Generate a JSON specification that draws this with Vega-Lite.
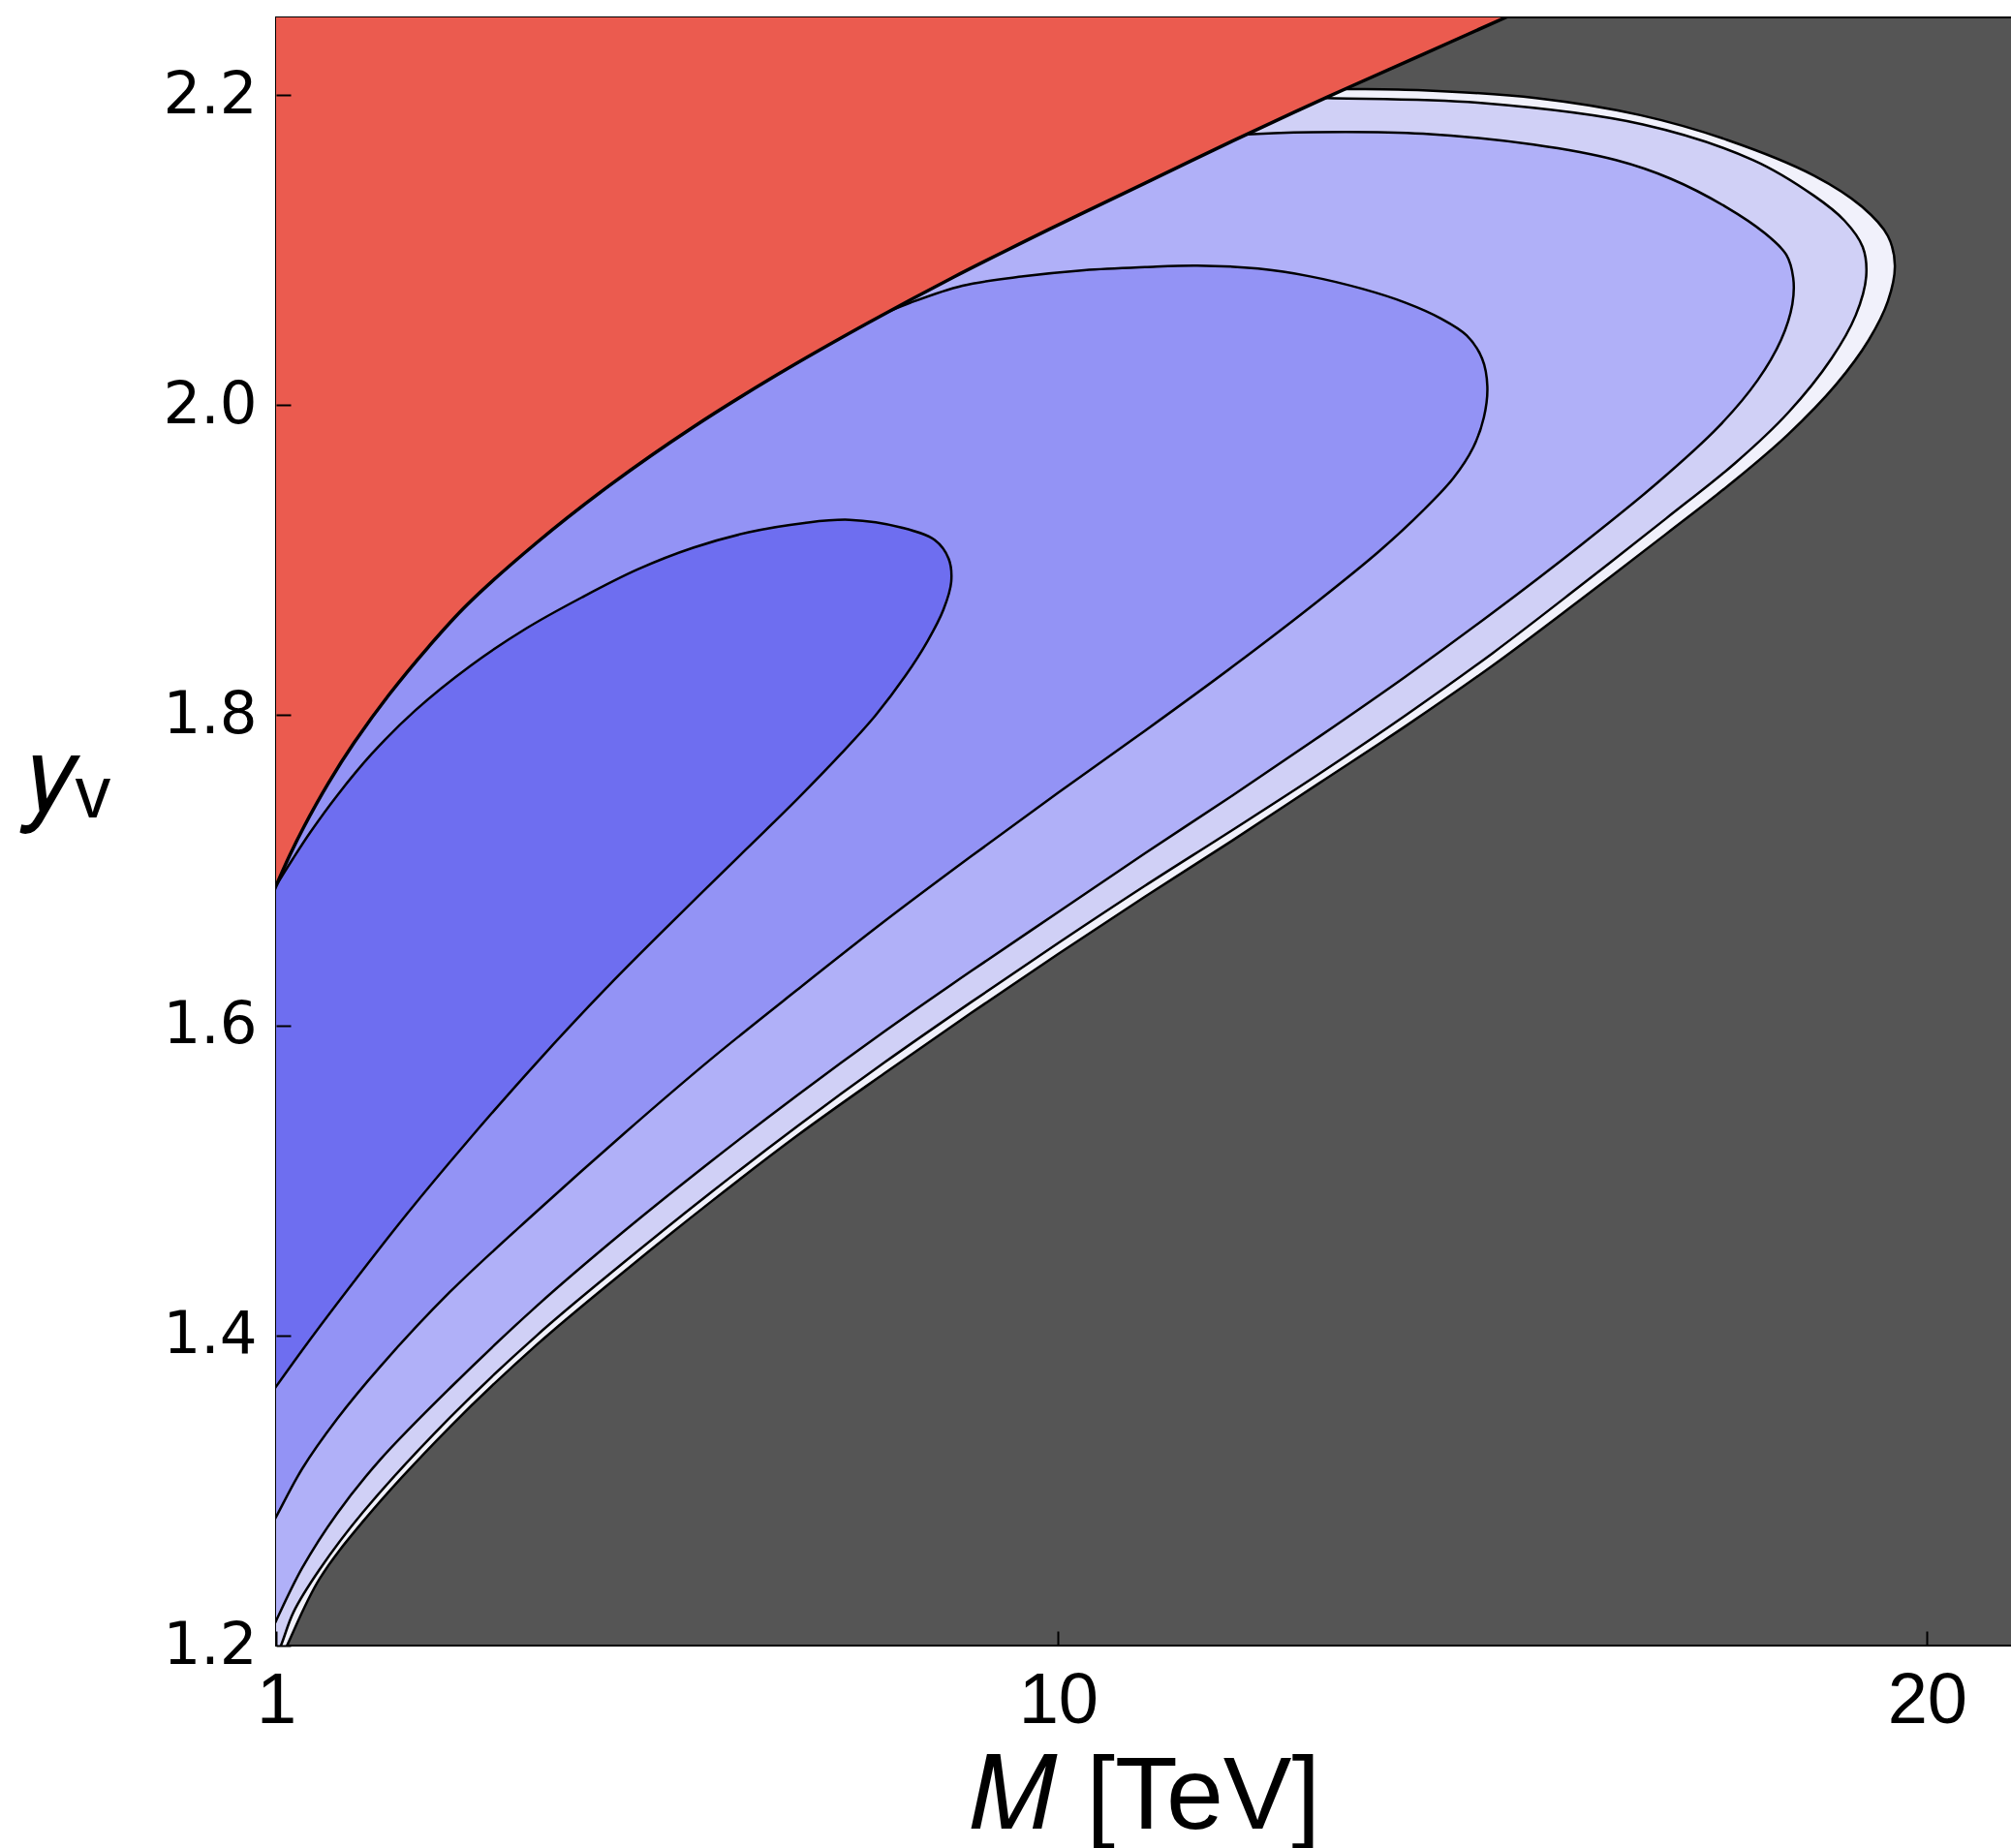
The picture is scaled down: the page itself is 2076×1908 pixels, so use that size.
{
  "$schema": "https://vega.github.io/schema/vega-lite/v6.json",
  "autosize": {"type": "none"},
  "padding": {"left": 285, "top": 18, "right": 0, "bottom": 209},
  "width": 1794,
  "height": 1681,
  "background": "white",
  "config": {
    "view": {"fill": "#555555", "stroke": "black", "strokeWidth": 2}
  },
  "data": {"values": [
    {"s":"outer","i":1,"M":0.9,"y":1.17},{"s":"outer","i":2,"M":1.15,"y":1.203},{"s":"outer","i":3,"M":1.5,"y":1.243},{"s":"outer","i":4,"M":2,"y":1.28},{"s":"outer","i":5,"M":3,"y":1.341},{"s":"outer","i":6,"M":4,"y":1.394},{"s":"outer","i":7,"M":5,"y":1.441},{"s":"outer","i":8,"M":6,"y":1.486},{"s":"outer","i":9,"M":7,"y":1.529},{"s":"outer","i":10,"M":8,"y":1.569},{"s":"outer","i":11,"M":9,"y":1.608},{"s":"outer","i":12,"M":10,"y":1.646},{"s":"outer","i":13,"M":11,"y":1.683},{"s":"outer","i":14,"M":12,"y":1.719},{"s":"outer","i":15,"M":13,"y":1.756},{"s":"outer","i":16,"M":14,"y":1.793},{"s":"outer","i":17,"M":15,"y":1.832},{"s":"outer","i":18,"M":16,"y":1.874},{"s":"outer","i":19,"M":17,"y":1.917},{"s":"outer","i":20,"M":17.8,"y":1.952},{"s":"outer","i":21,"M":18.4,"y":1.981},{"s":"outer","i":22,"M":18.95,"y":2.013},{"s":"outer","i":23,"M":19.33,"y":2.042},{"s":"outer","i":24,"M":19.55,"y":2.067},{"s":"outer","i":25,"M":19.63,"y":2.09},{"s":"outer","i":26,"M":19.55,"y":2.109},{"s":"outer","i":27,"M":19.25,"y":2.128},{"s":"outer","i":28,"M":18.7,"y":2.148},{"s":"outer","i":29,"M":17.7,"y":2.171},{"s":"outer","i":30,"M":16.7,"y":2.187},{"s":"outer","i":31,"M":15.5,"y":2.198},{"s":"outer","i":32,"M":14.2,"y":2.203},{"s":"outer","i":33,"M":13.19,"y":2.204},{"s":"outer","i":34,"M":12.4,"y":2.205},{"s":"outer","i":35,"M":12.0,"y":2.35},{"s":"outer","i":36,"M":0.9,"y":2.35},

    {"s":"lightest","i":1,"M":0.9,"y":1.18},{"s":"lightest","i":2,"M":1.056,"y":1.2},{"s":"lightest","i":3,"M":1.2,"y":1.2215},{"s":"lightest","i":4,"M":1.5,"y":1.249},{"s":"lightest","i":5,"M":2,"y":1.286},{"s":"lightest","i":6,"M":3,"y":1.347},{"s":"lightest","i":7,"M":4,"y":1.4},{"s":"lightest","i":8,"M":5,"y":1.447},{"s":"lightest","i":9,"M":6,"y":1.492},{"s":"lightest","i":10,"M":7,"y":1.535},{"s":"lightest","i":11,"M":8,"y":1.576},{"s":"lightest","i":12,"M":9,"y":1.615},{"s":"lightest","i":13,"M":10,"y":1.653},{"s":"lightest","i":14,"M":11,"y":1.69},{"s":"lightest","i":15,"M":11.98,"y":1.725},{"s":"lightest","i":16,"M":13,"y":1.762},{"s":"lightest","i":17,"M":14,"y":1.8},{"s":"lightest","i":18,"M":15,"y":1.84},{"s":"lightest","i":19,"M":16,"y":1.883},{"s":"lightest","i":20,"M":17,"y":1.927},{"s":"lightest","i":21,"M":17.8,"y":1.963},{"s":"lightest","i":22,"M":18.4,"y":1.995},{"s":"lightest","i":23,"M":18.9,"y":2.03},{"s":"lightest","i":24,"M":19.18,"y":2.058},{"s":"lightest","i":25,"M":19.3,"y":2.083},{"s":"lightest","i":26,"M":19.26,"y":2.102},{"s":"lightest","i":27,"M":19.05,"y":2.119},{"s":"lightest","i":28,"M":18.7,"y":2.135},{"s":"lightest","i":29,"M":18.0,"y":2.158},{"s":"lightest","i":30,"M":16.73,"y":2.181},{"s":"lightest","i":31,"M":14.83,"y":2.195},{"s":"lightest","i":32,"M":13.1,"y":2.198},{"s":"lightest","i":33,"M":12.4,"y":2.199},{"s":"lightest","i":34,"M":12.0,"y":2.35},{"s":"lightest","i":35,"M":0.9,"y":2.35},

    {"s":"light","i":1,"M":0.9,"y":1.204},{"s":"light","i":2,"M":1,"y":1.216},{"s":"light","i":3,"M":1.3,"y":1.25},{"s":"light","i":4,"M":1.7,"y":1.285},{"s":"light","i":5,"M":2.2,"y":1.32},{"s":"light","i":6,"M":3,"y":1.366},{"s":"light","i":7,"M":4,"y":1.419},{"s":"light","i":8,"M":5,"y":1.467},{"s":"light","i":9,"M":6,"y":1.512},{"s":"light","i":10,"M":7,"y":1.555},{"s":"light","i":11,"M":8,"y":1.596},{"s":"light","i":12,"M":9,"y":1.635},{"s":"light","i":13,"M":10,"y":1.673},{"s":"light","i":14,"M":11,"y":1.711},{"s":"light","i":15,"M":12,"y":1.748},{"s":"light","i":16,"M":13,"y":1.786},{"s":"light","i":17,"M":14,"y":1.825},{"s":"light","i":18,"M":15,"y":1.866},{"s":"light","i":19,"M":16,"y":1.909},{"s":"light","i":20,"M":16.9,"y":1.95},{"s":"light","i":21,"M":17.6,"y":1.986},{"s":"light","i":22,"M":18.05,"y":2.016},{"s":"light","i":23,"M":18.32,"y":2.042},{"s":"light","i":24,"M":18.45,"y":2.065},{"s":"light","i":25,"M":18.46,"y":2.082},{"s":"light","i":26,"M":18.38,"y":2.097},{"s":"light","i":27,"M":18.13,"y":2.111},{"s":"light","i":28,"M":17.68,"y":2.128},{"s":"light","i":29,"M":17.05,"y":2.146},{"s":"light","i":30,"M":16.42,"y":2.158},{"s":"light","i":31,"M":15.47,"y":2.168},{"s":"light","i":32,"M":14.2,"y":2.175},{"s":"light","i":33,"M":12.93,"y":2.176},{"s":"light","i":34,"M":11.98,"y":2.174},{"s":"light","i":35,"M":11.3,"y":2.171},{"s":"light","i":36,"M":11.0,"y":2.35},{"s":"light","i":37,"M":0.9,"y":2.35},

    {"s":"medium","i":1,"M":0.9,"y":1.273},{"s":"medium","i":2,"M":1,"y":1.283},{"s":"medium","i":3,"M":1.3,"y":1.314},{"s":"medium","i":4,"M":1.7,"y":1.346},{"s":"medium","i":5,"M":2.2,"y":1.38},{"s":"medium","i":6,"M":3,"y":1.428},{"s":"medium","i":7,"M":4,"y":1.48},{"s":"medium","i":8,"M":5,"y":1.53},{"s":"medium","i":9,"M":6,"y":1.578},{"s":"medium","i":10,"M":7,"y":1.623},{"s":"medium","i":11,"M":8,"y":1.667},{"s":"medium","i":12,"M":9,"y":1.709},{"s":"medium","i":13,"M":10,"y":1.75},{"s":"medium","i":14,"M":11,"y":1.79},{"s":"medium","i":15,"M":12,"y":1.831},{"s":"medium","i":16,"M":13,"y":1.874},{"s":"medium","i":17,"M":13.7,"y":1.906},{"s":"medium","i":18,"M":14.2,"y":1.932},{"s":"medium","i":19,"M":14.55,"y":1.953},{"s":"medium","i":20,"M":14.78,"y":1.973},{"s":"medium","i":21,"M":14.9,"y":1.992},{"s":"medium","i":22,"M":14.94,"y":2.012},{"s":"medium","i":23,"M":14.88,"y":2.03},{"s":"medium","i":24,"M":14.7,"y":2.045},{"s":"medium","i":25,"M":14.4,"y":2.056},{"s":"medium","i":26,"M":14.0,"y":2.066},{"s":"medium","i":27,"M":13.5,"y":2.075},{"s":"medium","i":28,"M":12.9,"y":2.083},{"s":"medium","i":29,"M":12.3,"y":2.088},{"s":"medium","i":30,"M":11.6,"y":2.09},{"s":"medium","i":31,"M":11.0,"y":2.089},{"s":"medium","i":32,"M":10.3,"y":2.087},{"s":"medium","i":33,"M":9.6,"y":2.083},{"s":"medium","i":34,"M":8.9,"y":2.077},{"s":"medium","i":35,"M":8.3,"y":2.066},{"s":"medium","i":36,"M":7.78,"y":2.054},{"s":"medium","i":37,"M":7.3,"y":2.044},{"s":"medium","i":38,"M":6.8,"y":2.35},{"s":"medium","i":39,"M":0.9,"y":2.35},

    {"s":"inner","i":1,"M":0.9,"y":1.359},{"s":"inner","i":2,"M":1,"y":1.367},{"s":"inner","i":3,"M":1.4,"y":1.398},{"s":"inner","i":4,"M":1.9,"y":1.435},{"s":"inner","i":5,"M":2.5,"y":1.478},{"s":"inner","i":6,"M":3.2,"y":1.525},{"s":"inner","i":7,"M":4.0,"y":1.576},{"s":"inner","i":8,"M":4.8,"y":1.624},{"s":"inner","i":9,"M":5.6,"y":1.669},{"s":"inner","i":10,"M":6.4,"y":1.713},{"s":"inner","i":11,"M":7.0,"y":1.746},{"s":"inner","i":12,"M":7.5,"y":1.775},{"s":"inner","i":13,"M":7.9,"y":1.8},{"s":"inner","i":14,"M":8.25,"y":1.826},{"s":"inner","i":15,"M":8.5,"y":1.848},{"s":"inner","i":16,"M":8.68,"y":1.868},{"s":"inner","i":17,"M":8.77,"y":1.886},{"s":"inner","i":18,"M":8.74,"y":1.901},{"s":"inner","i":19,"M":8.58,"y":1.913},{"s":"inner","i":20,"M":8.2,"y":1.921},{"s":"inner","i":21,"M":7.6,"y":1.926},{"s":"inner","i":22,"M":7.08,"y":1.924},{"s":"inner","i":23,"M":6.44,"y":1.918},{"s":"inner","i":24,"M":5.8,"y":1.908},{"s":"inner","i":25,"M":5.16,"y":1.894},{"s":"inner","i":26,"M":4.52,"y":1.876},{"s":"inner","i":27,"M":3.88,"y":1.856},{"s":"inner","i":28,"M":3.24,"y":1.832},{"s":"inner","i":29,"M":2.6,"y":1.803},{"s":"inner","i":30,"M":2.1,"y":1.775},{"s":"inner","i":31,"M":1.7,"y":1.748},{"s":"inner","i":32,"M":1.4,"y":1.725},{"s":"inner","i":33,"M":1.2,"y":1.708},{"s":"inner","i":34,"M":1.0,"y":1.69},{"s":"inner","i":35,"M":0.9,"y":1.68},

    {"s":"red","i":1,"M":0.9,"y":1.677},{"s":"red","i":2,"M":1,"y":1.69},{"s":"red","i":3,"M":1.16,"y":1.71},{"s":"red","i":4,"M":1.32,"y":1.728},{"s":"red","i":5,"M":1.6,"y":1.756},{"s":"red","i":6,"M":1.9,"y":1.7824},{"s":"red","i":7,"M":2.3,"y":1.8132},{"s":"red","i":8,"M":2.75,"y":1.8438},{"s":"red","i":9,"M":3.2,"y":1.8713},{"s":"red","i":10,"M":4.0,"y":1.9113},{"s":"red","i":11,"M":4.85,"y":1.9487},{"s":"red","i":12,"M":5.8,"y":1.9858},{"s":"red","i":13,"M":6.75,"y":2.019},{"s":"red","i":14,"M":7.8,"y":2.0526},{"s":"red","i":15,"M":8.8,"y":2.0826},{"s":"red","i":16,"M":9.9,"y":2.1134},{"s":"red","i":17,"M":11,"y":2.1431},{"s":"red","i":18,"M":12,"y":2.1701},{"s":"red","i":19,"M":13.1,"y":2.1987},{"s":"red","i":20,"M":14.2,"y":2.2262},{"s":"red","i":21,"M":15.25,"y":2.2525},{"s":"red","i":22,"M":16,"y":2.271},{"s":"red","i":23,"M":16,"y":2.4},{"s":"red","i":24,"M":0.9,"y":2.4}
  ]},
  "encoding": {
    "x": {"field": "M", "type": "quantitative",
      "scale": {"domain": [1, 21], "nice": false, "zero": false},
      "axis": {"values": [1, 10, 20], "format": "d", "grid": false, "domain": false, "zindex": 1,
        "labelFont": "Liberation Sans", "labelFontSize": 74, "labelColor": "black", "labelPadding": 36, "labelFlush": false, "labelOverlap": false,
        "tickSize": -15, "tickColor": "black", "tickWidth": 2,
        "title": "\ud835\udc40 [TeV]", "titleFont": "Liberation Sans", "titleFontSize": 106, "titleFontWeight": "normal", "titleColor": "black",
        "titleY": 188, "titleBaseline": "alphabetic"}},
    "y": {"field": "y", "type": "quantitative",
      "scale": {"domain": [1.2, 2.25], "nice": false, "zero": false},
      "axis": {"values": [1.2, 1.4, 1.6, 1.8, 2.0, 2.2], "format": ".1f", "grid": false, "domain": false, "zindex": 1,
        "labelFont": "DejaVu Sans", "labelFontSize": 61, "labelColor": "black", "labelPadding": 35, "labelFlush": false, "labelOverlap": false,
        "tickSize": -15, "tickColor": "black", "tickWidth": 2,
        "title": "\ud835\udc66\u1d65", "titleFont": "Liberation Sans", "titleFontSize": 108, "titleFontWeight": "normal", "titleColor": "black",
        "titleAngle": 0, "titleAlign": "left", "titleBaseline": "alphabetic", "titleX": -257, "titleY": 818}},
    "order": {"field": "i", "type": "quantitative"}
  },
  "layer": [
    {"transform": [{"filter": "datum.s === 'outer'"}], "mark": {"type": "line", "interpolate": "catmull-rom", "clip": true, "fill": "#F1F1FB", "stroke": "black", "strokeWidth": 2.5}},
    {"transform": [{"filter": "datum.s === 'lightest'"}], "mark": {"type": "line", "interpolate": "catmull-rom", "clip": true, "fill": "#D0D0F6", "stroke": "black", "strokeWidth": 2.5}},
    {"transform": [{"filter": "datum.s === 'light'"}], "mark": {"type": "line", "interpolate": "catmull-rom", "clip": true, "fill": "#B0B0F8", "stroke": "black", "strokeWidth": 2.5}},
    {"transform": [{"filter": "datum.s === 'medium'"}], "mark": {"type": "line", "interpolate": "catmull-rom", "clip": true, "fill": "#9393F5", "stroke": "black", "strokeWidth": 2.5}},
    {"transform": [{"filter": "datum.s === 'inner'"}], "mark": {"type": "line", "interpolate": "catmull-rom", "clip": true, "fill": "#6E6EF0", "stroke": "black", "strokeWidth": 2.5}},
    {"transform": [{"filter": "datum.s === 'red'"}], "mark": {"type": "line", "interpolate": "catmull-rom", "clip": true, "fill": "#EB5B4F", "stroke": "black", "strokeWidth": 3.5}}
  ]
}
